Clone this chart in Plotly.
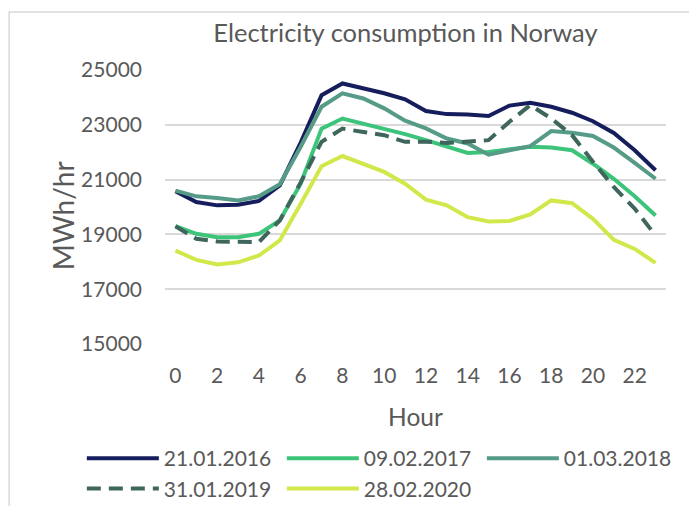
import plotly.graph_objects as go

# Hourly consumption (MWh/hr) for five winter days
hours = list(range(24))

cons_2016 = [20580, 20180, 20060, 20080, 20220, 20790, 22350, 24080, 24510, 24330, 24150, 23930,
             23500, 23390, 23380, 23320, 23700, 23800, 23660, 23440, 23130, 22700, 22070, 21340]
cons_2017 = [19300, 19020, 18900, 18900, 19020, 19510, 20850, 22860, 23230, 23050, 22860, 22660,
             22440, 22200, 21970, 22010, 22100, 22200, 22170, 22070, 21580, 21030, 20390, 19690]
cons_2018 = [20600, 20390, 20330, 20240, 20390, 20830, 22200, 23660, 24150, 23960, 23600, 23150,
             22870, 22500, 22320, 21910, 22070, 22220, 22770, 22710, 22590, 22170, 21610, 21030]
cons_2019 = [19300, 18840, 18740, 18720, 18720, 19510, 20900, 22380, 22860, 22740, 22620, 22380,
             22380, 22340, 22380, 22440, 23110, 23720, 23230, 22620, 21650, 20730, 19940, 18960]
cons_2020 = [18410, 18070, 17900, 17980, 18230, 18780, 20120, 21490, 21860, 21580, 21280, 20850,
             20270, 20060, 19630, 19470, 19490, 19730, 20240, 20140, 19570, 18800, 18470, 17960]

series = [
    ("21.01.2016", cons_2016, "#161d5c", "solid"),
    ("09.02.2017", cons_2017, "#3cc47a", "solid"),
    ("01.03.2018", cons_2018, "#559b87", "solid"),
    ("31.01.2019", cons_2019, "#3e665c", "14px,8px"),
    ("28.02.2020", cons_2020, "#d2e84a", "solid"),
]

text_color = "#595959"
grid_color = "#d9d9d9"
font_family = "Lato"

fig = go.Figure()
for name, vals, color, dash in series:
    fig.add_trace(go.Scatter(
        x=hours, y=vals, mode="lines", name=name,
        line=dict(color=color, width=4, dash=dash),
    ))

fig.update_layout(
    width=689, height=506,
    margin=dict(l=165, r=23, t=70, b=162, autoexpand=False),
    paper_bgcolor="white", plot_bgcolor="white",
    font=dict(family=font_family, color=text_color),
    title=dict(text="Electricity consumption in Norway", font=dict(size=25.5, color=text_color),
               x=0.48, xref="paper", xanchor="center", y=0.935, yanchor="middle"),
    showlegend=True,
    legend=dict(
        orientation="h", x=-0.166, xanchor="left", y=-0.343, yanchor="top",
        font=dict(size=21, color=text_color),
        itemwidth=72, entrywidth=113, entrywidthmode="pixels",
        traceorder="normal",
    ),
    # y axis title placed like the original (closer to the tick labels than plotly allows)
    annotations=[dict(text="MWh/hr", textangle=-90, xref="paper", yref="paper",
                      x=-0.203, y=0.467, xanchor="center", yanchor="middle", showarrow=False,
                      font=dict(size=28, color=text_color))],
    # chart area border
    shapes=[dict(type="rect", xref="paper", yref="paper",
                 x0=-0.311, x1=1.1, y0=-0.7, y1=1.212,
                 line=dict(color=grid_color, width=1.5), layer="below")],
)

fig.update_xaxes(
    range=[-0.5, 23.5], tickmode="array", tickvals=list(range(0, 24, 2)),
    showgrid=False, zeroline=False, showline=False, ticks="",
    tickfont=dict(size=21, color=text_color), ticklabelstandoff=17,
    title=dict(text="Hour", font=dict(size=24.5, color=text_color), standoff=22),
)
fig.update_yaxes(
    range=[15000, 25000], tickmode="array", tickvals=list(range(15000, 25001, 2000)),
    tickformat="d",
    showgrid=True, gridcolor=grid_color, gridwidth=1.5, zeroline=False, showline=False, ticks="",
    tickfont=dict(size=21, color=text_color), ticklabelstandoff=22,
)

# page body has a default 8px margin; drop it so the figure sits at the window origin
fig.write_html("out.html", config={"displayModeBar": False},
               post_script="document.body.style.margin='0';")
